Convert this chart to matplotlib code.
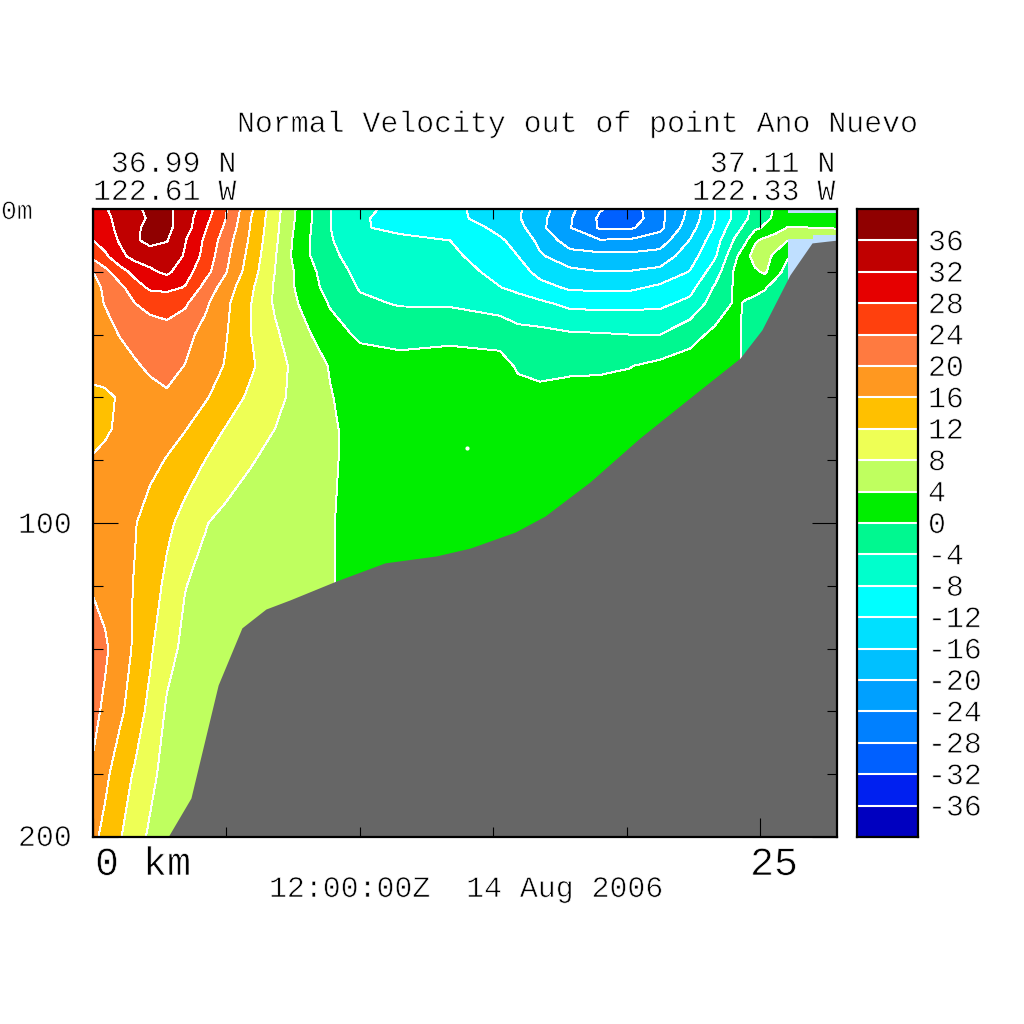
import numpy as np
import matplotlib
matplotlib.use("Agg")
import matplotlib.pyplot as plt
import matplotlib.patheffects as pe

# ----------------------------------------------------------------------
# Values
# ----------------------------------------------------------------------
dist_km = [0, 0.45, 1.01, 1.57, 2.14, 2.77, 3.45, 4.2, 4.95, 5.88, 6.82, 7.76, 8.88, 10.01, 11.51, 13.38,
           15.25, 15.93, 16.75, 17.88, 19.0, 20.13, 21.25, 22.38, 23.31, 24.06, 24.44, 24.81, 25.19, 25.56, 26.01, 26.5, 27.89]
depth_m = [0, 3, 6, 10, 15, 20, 25, 30, 40, 50, 60, 70, 80, 100, 120, 140, 160, 180, 200]

velocity = [
    [30.5, 31.7, 33.4, 35.1, 37, 37, 34.2, 30.3, 24.6, 17, 9.6, 2.8, -3.9, -7.2, -9, -10.9, -14.2, -15.5, -18.3, -23, -27.7, -30, -25, -19.2, -12, -6.9, -4.8, -3, -1.4, 0.4, 1, 1.5, 1.5],
    [30, 31.2, 33, 35, 36.4, 37, 33.9, 29.3, 24.2, 16.3, 9.3, 2.6, -3.9, -7.6, -9.2, -11.1, -13.5, -15.6, -18.8, -23.7, -28.6, -30.5, -25, -18.7, -12, -7, -4.5, -2.8, -0.7, 0.5, 2.5, 2.5, 2.5],
    [29.2, 30.6, 33, 35.4, 37, 37, 33.8, 28.4, 23.4, 16, 9.1, 2.3, -3.9, -7.8, -8.5, -9.2, -13, -14.5, -19, -23.8, -28.4, -28.6, -25, -17.5, -11.5, -5.4, -3.3, -0.8, 0.6, 2, 4.1, 4.1, 3.9],
    [28, 29.8, 32.4, 35.3, 37.3, 36.2, 32.2, 27.4, 22.1, 15.5, 8.8, 1.8, -3.6, -7.1, -7.5, -8, -11.5, -13.2, -17, -22, -23.7, -23.5, -22, -15.8, -9.8, -3.5, -0.8, 3.5, 5, 6, 4.2, 5, 5.5],
    [25, 27.2, 31, 33.3, 33.8, 34, 31.7, 26.7, 21.2, 14.8, 8.3, 1.6, -3, -6, -6.9, -7.1, -10.4, -12, -15.5, -18.4, -18.8, -18.9, -18.4, -13.7, -8.5, -0.9, 2.6, 5.5, 5.2, 3.3, 0.3, -1, -1],
    [20, 22.8, 26.3, 29.3, 31.3, 32.8, 29.7, 25.4, 20.5, 14, 8, 2.7, -2.2, -5, -6, -6.1, -9.2, -10.2, -13.3, -15.1, -15.9, -15.8, -14.9, -11.8, -6, 0.6, 2.4, 3.4, 4.6, 1, -0.8, -1.5, -1.5],
    [19, 20.5, 23, 26.2, 28.7, 29, 27.8, 22.8, 18.2, 12.9, 7.5, 3, -1.5, -4.3, -5.1, -5.2, -7.9, -8.8, -10.6, -12.6, -12.8, -12.8, -11.2, -9.3, -3.5, 0.5, 0.9, 1, 0.2, -1, -2, -2, -2],
    [18.5, 20.2, 22.2, 24, 25, 25.5, 24.6, 20.8, 17, 12.3, 7.5, 3.7, -0.3, -3.3, -4.3, -4.4, -5.6, -6.6, -7.3, -9, -9.2, -9.1, -8.9, -7, -2.1, 0.4, -0.2, -0.9, -1, -2, -2, -2, -2],
    [17.7, 18.4, 20.2, 21.5, 22.3, 22.7, 21.2, 18.7, 16.4, 12.2, 8.6, 5.5, 1.5, -0.6, -1.4, -1.1, -1.6, -2.7, -2.9, -3.5, -3.7, -4, -4, -1.2, 0.8, 0.8, -0.5, -1.5, -2, -2, -2, -2, -2],
    [16.7, 17.4, 18, 19.5, 20.7, 21.2, 19.9, 18, 15.8, 12.7, 9.5, 6.6, 3.8, 1.6, 1.4, 2, 1.5, -0.5, -0.8, -0.5, -0.4, -0.1, 1, 1.5, 1.6, 0.8, -0.5, -1.5, -2, -2, -2, -2, -2],
    [15.5, 15.4, 16.3, 17.5, 18.6, 19.5, 18.4, 16.4, 14.2, 11.3, 9, 6.7, 4.2, 2.5, 1.8, 2.2, 2.3, 1.5, 0.8, 1, 1, 1.2, 1.6, 2, 2, 1, -0.5, -1, -1, -1, -1, -1, -1],
    [15.2, 15.5, 16.6, 17.3, 17.6, 17.3, 16.2, 14, 11.9, 9.9, 8, 6.2, 4.4, 3, 2.5, 2.5, 2.2, 2, 1.5, 1, 1, 1, 1, 1, 1, 1, 1, 1, 1, 1, 1, 1, 1],
    [16.2, 16.8, 17.3, 17.3, 17, 15.8, 13.8, 12, 10.2, 8.3, 7, 5.9, 4.4, 3, 2.5, 2.5, 2.2, 2, 1.5, 1, 1, 1, 1, 1, 1, 1, 1, 1, 1, 1, 1, 1, 1],
    [17.5, 17.4, 17, 16.2, 14.5, 12.8, 10.8, 8.2, 7, 6.2, 5.8, 5.2, 4.2, 3, 2.5, 2.5, 2.2, 2, 1.5, 1, 1, 1, 1, 1, 1, 1, 1, 1, 1, 1, 1, 1, 1],
    [19.8, 18.7, 17.2, 15.8, 13.9, 11.1, 8.1, 7, 6.5, 6, 5.5, 5, 4.2, 3, 2.5, 2.5, 2.2, 2, 1.5, 1, 1, 1, 1, 1, 1, 1, 1, 1, 1, 1, 1, 1, 1],
    [21, 20.6, 18, 15.4, 12.6, 9.2, 7.2, 6.4, 6, 5.6, 5.2, 5, 4.5, 3, 2.5, 2.5, 2.2, 2, 1.5, 1, 1, 1, 1, 1, 1, 1, 1, 1, 1, 1, 1, 1, 1],
    [21, 19.3, 16.8, 13.8, 11, 7.5, 6.5, 5.8, 5.5, 5.2, 5, 5, 4.5, 3, 2.5, 2.5, 2.2, 2, 1.5, 1, 1, 1, 1, 1, 1, 1, 1, 1, 1, 1, 1, 1, 1],
    [19.5, 17, 13.7, 11.6, 9, 6.6, 5.5, 5, 5, 5, 5, 5, 4.5, 3, 2.5, 2.5, 2.2, 2, 1.5, 1, 1, 1, 1, 1, 1, 1, 1, 1, 1, 1, 1, 1, 1],
    [17, 14.8, 12.3, 9.6, 7.4, 6, 5, 5, 5, 5, 5, 5, 4.5, 3, 2.5, 2.5, 2.2, 2, 1.5, 1, 1, 1, 1, 1, 1, 1, 1, 1, 1, 1, 1, 1, 1],
]

# sea floor outline
floor_km = [2.81, 3.67, 4.69, 5.58, 6.48, 7.38, 9.11, 10.94, 12.86, 14.13, 15.82, 16.94, 18.63, 20.5, 22.75, 24.25, 25.07, 26.12, 26.95, 27.89]
floor_m = [200, 187.6, 151.6, 133.4, 127.4, 124.5, 118.5, 112.7, 110.5, 108, 102.9, 97.8, 86.9, 72.9, 57.6, 47.5, 38.5, 21, 10.8, 9.9]

# undefined cells near the coast
nodata_km = [26.05, 27.0, 27.0, 27.89, 27.89, 26.05]
nodata_m = [9.7, 9.7, 8.3, 8.3, 22.5, 22.5]
strip_km = [26.05, 27.89, 27.89, 26.05]
strip_m = [0, 0, 1.3, 1.3]

speck_km = [14.0]
speck_m = [76.0]

levels = [-40, -36, -32, -28, -24, -20, -16, -12, -8, -4, 0, 4, 8, 12, 16, 20, 24, 28, 32, 36, 40]
band_colors = ["#0000c0", "#0020f0", "#0060ff", "#0080ff", "#00a0ff", "#00c0ff", "#00e0ff", "#00ffff",
               "#00ffcc", "#00f890", "#00ee00", "#bfff5f", "#eeff55", "#ffc000", "#ff9820", "#ff7a40",
               "#ff400d", "#e60000", "#c00000", "#900000"]

# ----------------------------------------------------------------------
FONT = "Liberation Mono"
PX = 1 / 1024
thin = [pe.Stroke(linewidth=0.5, foreground="white")]  # GrADS strokes are hairlines


def put(x, y, s, size=21.5, ha="left"):
    # pixel position (baseline) on the 1024 canvas
    fig.text(x * PX, 1 - y * PX, s, fontsize=size, family=FONT, ha=ha, va="baseline", color="black", path_effects=thin)


fig = plt.figure(figsize=(10.24, 10.24), dpi=100)
ax = fig.add_axes([93 * PX, 1 - 837 * PX, 744 * PX, 628 * PX])
cax = fig.add_axes([857 * PX, 1 - 837 * PX, 61 * PX, 628 * PX])

X, Y = np.meshgrid(dist_km, depth_m)
V = np.array(velocity)
ax.contourf(X, Y, V, levels=levels, colors=band_colors, antialiased=False, zorder=1)
ax.contour(X, Y, V, levels=levels[1:-1], colors="white", linewidths=0.7, linestyles="solid", antialiased=False, zorder=2)
ax.fill(nodata_km, nodata_m, color="#bfdfff", lw=0, zorder=2.2)
ax.fill(strip_km, strip_m, color="#bfdfff", lw=0, zorder=2.2)
ax.fill_between(floor_km, floor_m, 200, color="#666666", lw=0, zorder=2.3)
ax.plot(speck_km, speck_m, ls="none", marker="o", ms=2, mfc="white", mec="white", zorder=2.2)

ax.set_xlim(0, 27.886)
ax.set_ylim(200, 0)
ax.set_axisbelow(False)
ax.set_xticks([0, 25])
ax.set_xticks([5, 10, 15, 20], minor=True)
ax.set_yticks([0, 100, 200])
ax.set_yticks(np.arange(20, 200, 20), minor=True)
ax.tick_params(which="both", direction="in", top=True, right=True, labelbottom=False, labelleft=False, width=0.8, color="black")
ax.tick_params(axis="x", which="major", length=14)
ax.tick_params(axis="y", which="major", length=18)
ax.tick_params(which="minor", length=7.2)
for s in ax.spines.values():
    s.set_linewidth(1.6)

# colour bar
for lo, hi, c in zip(levels[:-1], levels[1:], band_colors):
    cax.barh((lo + hi) / 2, 1, height=hi - lo, color=c, lw=0)
cax.hlines(levels[1:-1], 0, 1, color="white", lw=1.5)
cax.set_xlim(0, 1)
cax.set_ylim(-40, 40)
cax.set_xticks([])
cax.set_yticks([])
for s in cax.spines.values():
    s.set_linewidth(1.6)
for lev in levels[1:-1]:
    py = 523 - lev * 7.85
    put(928, py + 10, str(lev))

# labels
put(237, 132, "Normal Velocity out of point Ano Nuevo")
put(236, 172, "36.99 N", ha="right")
put(236, 200, "122.61 W", ha="right")
put(835, 172, "37.11 N", ha="right")
put(835, 200, "122.33 W", ha="right")
put(1, 219, "0m", size=19)
put(18, 533, "100")
put(18, 846, "200")
put(95, 875, "0 km", size=28.8)
put(750, 875, "25", size=28.8)
put(269, 897, "12:00:00Z  14 Aug 2006")

fig.savefig("out.png", dpi=100)
